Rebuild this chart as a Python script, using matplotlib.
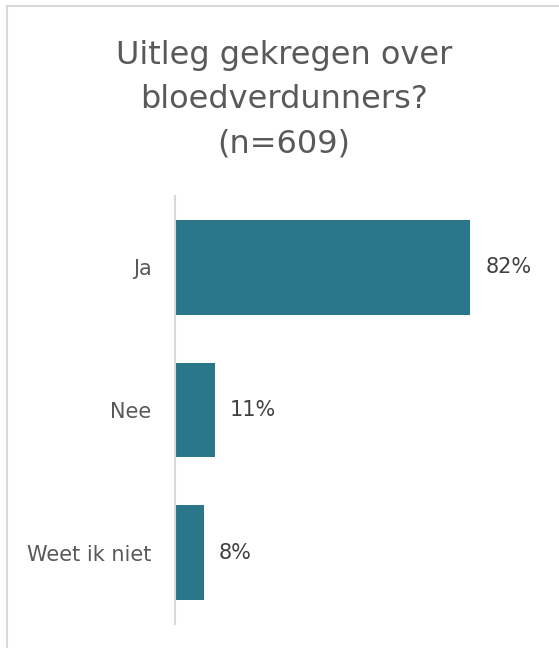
import matplotlib
matplotlib.use("Agg")
import matplotlib.pyplot as plt
from matplotlib.lines import Line2D

categories = ["Ja", "Nee", "Weet ik niet"]
values = [82, 11, 8]
value_labels = ["82%", "11%", "8%"]
title = "Uitleg gekregen over\nbloedverdunners?\n(n=609)"

W, H = 559, 648
fig = plt.figure(figsize=(W/100, H/100), dpi=100)
fig.patch.set_facecolor("white")

ax = fig.add_axes([175/W, 1-624/H, 360/W, 428/H])
y = list(range(len(categories)))
ax.barh(y, values, height=0.665, color="#2a7789")
ax.set_ylim(len(categories)-0.5, -0.5)
ax.set_xlim(0, 100)
ax.set_yticks(y)
ax.set_yticklabels(categories, fontsize=15, color="#595959")
ax.tick_params(axis="y", length=0, pad=17)
ax.set_xticks([])
for s in ["top", "right", "bottom"]:
    ax.spines[s].set_visible(False)
ax.spines["left"].set_color("#d9d9d9")
ax.spines["left"].set_linewidth(1.5)
for yi, v, lab in zip(y, values, value_labels):
    ax.annotate(lab, (v, yi), xytext=(11, 0), textcoords="offset points",
                va="center", ha="left", fontsize=15, color="#404040")

fig.text(0.508, 1-100/H, title, ha="center", va="center", fontsize=23,
         color="#595959", linespacing=1.56)

fig.add_artist(Line2D([7/W, 1], [1-6/H, 1-6/H], color="#d9d9d9", lw=1.5, transform=fig.transFigure))
fig.add_artist(Line2D([7/W, 7/W], [0, 1-6/H], color="#d9d9d9", lw=1.5, transform=fig.transFigure))

fig.savefig("out.png", dpi=100)
